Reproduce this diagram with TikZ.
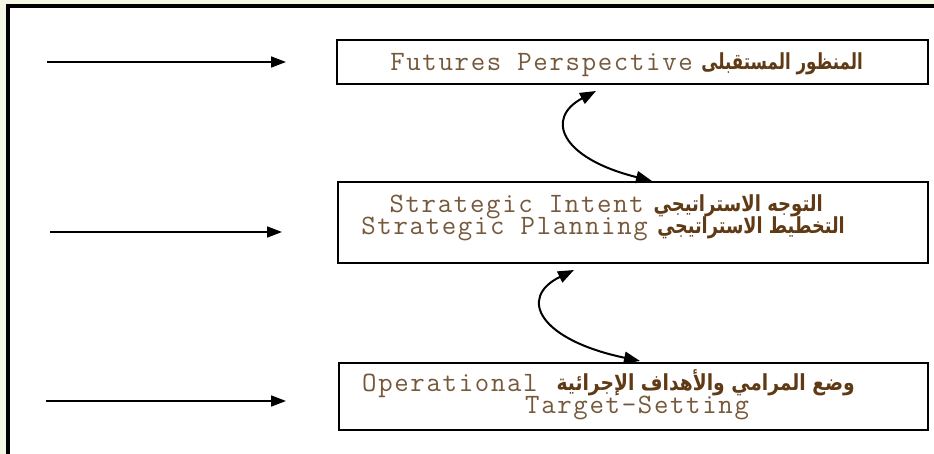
\documentclass[tikz,border=0pt]{standalone}
\usepackage{fontspec}
\setmonofont[LetterSpace=6]{Latin Modern Mono}
\newfontfamily\arabicfont[Script=Arabic]{DejaVu Sans}
\TeXXeTstate=1
\usetikzlibrary{arrows.meta}
\definecolor{pagebg}{RGB}{245,246,228}
\definecolor{engtext}{RGB}{118,88,58}
\definecolor{artext}{RGB}{96,58,20}
\tikzset{
  stagebox/.style={draw=black, line width=1.6pt, fill=white, inner sep=0pt},
  engline/.style={inner sep=0pt, text=engtext, font=\fontsize{28}{28}\ttfamily},
  arline/.style={inner sep=0pt, text=artext, font=\fontsize{17}{17}\arabicfont\bfseries},
  feed/.style={line width=1.7pt, -{Triangle[length=15pt,width=11pt]}},
  link/.style={line width=2pt, {Triangle[length=16pt,width=12pt]}-{Triangle[length=16pt,width=12pt]}}
}
\begin{document}
\begin{tikzpicture}[x=1pt, y=-1pt]
  % page background and frame
  \fill[pagebg] (0,0) rectangle (934,454);
  \useasboundingbox (0,0) rectangle (934,454);
  \fill[white] (8,6) rectangle (934,454);
  \draw[line width=4pt] (8,454) -- (8,6.5) -- (934,6.5);

  % stage boxes
  \node[stagebox, minimum width=591pt, minimum height=44pt] (persp) at (632.5,62) {};
  \node[stagebox, minimum width=590pt, minimum height=81pt] (strat) at (633,222.5) {};
  \node[stagebox, minimum width=589pt, minimum height=67pt] (oper) at (633.5,396.5) {};

  % box texts (Arabic stretched a little vertically)
  \node[engline, anchor=base east] (perspE) at (693,71) {Futures Perspective};
  \node[arline, anchor=base east] (perspA) at (863,70) {\scalebox{0.98}[1.3]{\beginR المنظور المستقبلى\endR}};

  \node[engline, anchor=base east] (intentE) at (644,213) {Strategic Intent};
  \node[arline, anchor=base east] (intentA) at (823,212) {\scalebox{1.06}[1.3]{\beginR التوجه الاستراتيجي\endR}};
  \node[engline, anchor=base east] (planE) at (648,235) {Strategic Planning};
  \node[arline, anchor=base east] (planA) at (845,234) {\scalebox{1.04}[1.3]{\beginR التخطيط الاستراتيجي\endR}};

  \node[engline, anchor=base west] (operE) at (362,391) {Operational};
  \node[arline, anchor=base east] (operA) at (855,390) {\scalebox{1.1}[1.3]{\beginR وضع المرامي والأهداف الإجرائية\endR}};
  \node[engline, anchor=base west] (targetE) at (525,413) {Target-Setting};

  % incoming arrows on the left
  \coordinate (in1s) at (47,62);  \coordinate (in1e) at (286,62);
  \coordinate (in2s) at (50,232); \coordinate (in2e) at (282,232);
  \coordinate (in3s) at (46,401); \coordinate (in3e) at (286,401);
  \draw[feed] (in1s) -- (in1e);
  \draw[feed] (in2s) -- (in2e);
  \draw[feed] (in3s) -- (in3e);

  % curved two-way links between the stages
  \coordinate (l1a) at (652,181);
  \coordinate (l1b) at (596,91);
  \coordinate (l2a) at (640,361);
  \coordinate (l2b) at (574,270);
  \draw[link] (l1a) .. controls (560,158) and (545,118) .. (l1b);
  \draw[link] (l2a) .. controls (540,340) and (517,298) .. (l2b);
\end{tikzpicture}
\end{document}
